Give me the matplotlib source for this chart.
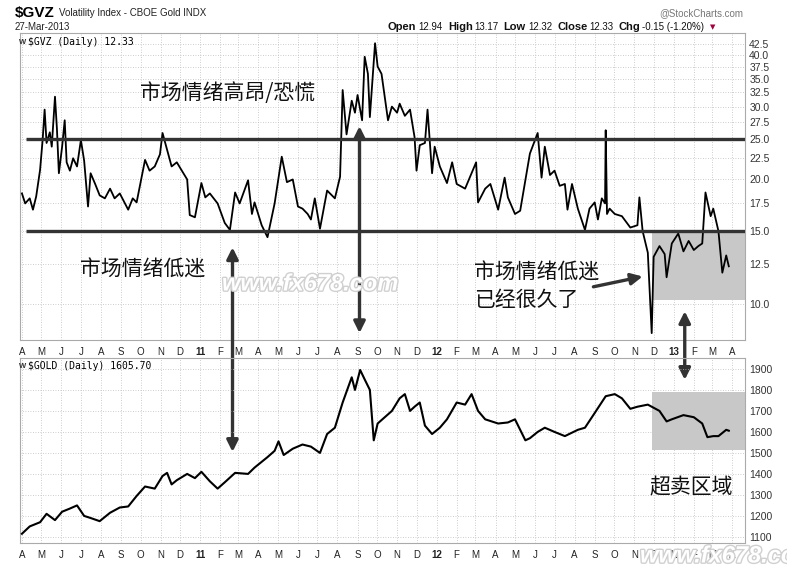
import matplotlib
matplotlib.use("Agg")
import matplotlib.pyplot as plt
import matplotlib.dates as mdates
import matplotlib.patheffects as pe
from matplotlib.ticker import FixedLocator, NullLocator
import pandas as pd

plt.rcParams['font.family'] = ['Liberation Sans', 'DejaVu Sans']
CJK = ['Noto Sans CJK SC', 'DejaVu Sans']

# GVZ (roughly weekly, plus the visible spikes)
gvz_dates = [
    "2010-04-01", "2010-04-06", "2010-04-13", "2010-04-18", "2010-04-23", "2010-04-29",
    "2010-05-03", "2010-05-06", "2010-05-09", "2010-05-14", "2010-05-17", "2010-05-22",
    "2010-05-25", "2010-05-28", "2010-06-02", "2010-06-06", "2010-06-09", "2010-06-14",
    "2010-06-19", "2010-06-25", "2010-07-01", "2010-07-06", "2010-07-12", "2010-07-16",
    "2010-07-23", "2010-07-30", "2010-08-07", "2010-08-15", "2010-08-22", "2010-08-30",
    "2010-09-12", "2010-09-19", "2010-09-25", "2010-10-08", "2010-10-15", "2010-10-23",
    "2010-10-31", "2010-11-04", "2010-11-11", "2010-11-18", "2010-11-26", "2010-12-12",
    "2010-12-16", "2010-12-24", "2011-01-03", "2011-01-09", "2011-01-16", "2011-01-28",
    "2011-02-08", "2011-02-16", "2011-02-24", "2011-03-03", "2011-03-16", "2011-03-22",
    "2011-03-26", "2011-04-06", "2011-04-15", "2011-04-26", "2011-05-07", "2011-05-15",
    "2011-05-24", "2011-06-01", "2011-06-08", "2011-06-16", "2011-06-21", "2011-06-27",
    "2011-07-05", "2011-07-16", "2011-07-28", "2011-08-05", "2011-08-09", "2011-08-15",
    "2011-08-23", "2011-08-28", "2011-09-01", "2011-09-08", "2011-09-12", "2011-09-17",
    "2011-09-20", "2011-09-28", "2011-10-02", "2011-10-08", "2011-10-13", "2011-10-18",
    "2011-10-24", "2011-11-01", "2011-11-05", "2011-11-13", "2011-11-21", "2011-11-28",
    "2011-12-01", "2011-12-06", "2011-12-14", "2011-12-18", "2011-12-25", "2011-12-29",
    "2012-01-06", "2012-01-17", "2012-01-25", "2012-02-01", "2012-02-14", "2012-03-02",
    "2012-03-05", "2012-03-16", "2012-03-24", "2012-04-05", "2012-04-15", "2012-04-20",
    "2012-05-01", "2012-05-09", "2012-05-17", "2012-05-24", "2012-06-05", "2012-06-11",
    "2012-06-16", "2012-06-24", "2012-07-01", "2012-07-09", "2012-07-17", "2012-07-21",
    "2012-07-28", "2012-08-06", "2012-08-17", "2012-08-24", "2012-09-01", "2012-09-06",
    "2012-09-12", "2012-09-17", "2012-09-18", "2012-09-20", "2012-09-24", "2012-10-02",
    "2012-10-13", "2012-10-26", "2012-11-06", "2012-11-09", "2012-11-14", "2012-11-22",
    "2012-11-28", "2012-12-01", "2012-12-10", "2012-12-18", "2012-12-21", "2012-12-29",
    "2013-01-08", "2013-01-16", "2013-01-24", "2013-02-01", "2013-02-08", "2013-02-14",
    "2013-02-19", "2013-02-27", "2013-03-03", "2013-03-11", "2013-03-17", "2013-03-23",
    "2013-03-27",
]
gvz_values = [
    18.5, 17.5, 18.0, 16.9, 18.2, 21.1,
    25.0, 29.5, 24.5, 26.0, 24.0, 31.7,
    26.5, 20.7, 24.0, 27.8, 22.0, 21.0,
    22.5, 21.5, 24.9, 22.2, 17.2, 20.7,
    19.5, 18.3, 18.0, 19.0, 18.0, 18.5,
    16.9, 18.0, 17.6, 22.3, 21.0, 21.5,
    23.0, 25.9, 23.6, 21.5, 22.0, 20.0,
    16.4, 16.2, 19.6, 18.1, 18.5, 17.5,
    15.7, 15.1, 18.6, 17.5, 19.9, 16.5,
    17.6, 15.5, 14.5, 17.5, 22.7, 19.7,
    20.0, 17.2, 17.0, 16.5, 16.0, 18.0,
    15.2, 18.8, 18.0, 20.3, 32.9, 25.7,
    31.0, 29.0, 32.0, 27.8, 39.6, 36.0,
    28.3, 42.7, 37.5, 36.0, 31.7, 27.8,
    30.0, 29.0, 30.5, 28.5, 29.5, 25.3,
    21.0, 24.2, 24.5, 29.5, 20.7, 24.0,
    21.5, 19.6, 22.0, 19.5, 19.0, 22.0,
    17.6, 19.0, 19.5, 16.9, 20.2, 18.1,
    16.5, 16.8, 19.9, 23.1, 25.9, 20.2,
    24.0, 20.5, 21.0, 19.3, 19.5, 16.9,
    19.5, 17.0, 15.1, 17.0, 17.6, 16.0,
    18.0, 17.5, 26.3, 16.5, 17.0, 16.5,
    16.3, 15.3, 15.5, 18.1, 15.0, 13.3,
    8.5, 13.0, 13.8, 13.2, 11.6, 14.0,
    14.8, 13.4, 14.2, 13.5, 13.8, 14.0,
    18.6, 16.3, 17.0, 15.0, 11.9, 13.1,
    12.33,
]

# Gold
gold_dates = [
    "2010-04-01", "2010-04-13", "2010-04-29", "2010-05-09", "2010-05-22", "2010-06-02",
    "2010-06-14", "2010-06-25", "2010-07-06", "2010-07-16", "2010-07-30", "2010-08-15",
    "2010-08-30", "2010-09-12", "2010-09-25", "2010-10-08", "2010-10-23", "2010-11-04",
    "2010-11-11", "2010-11-18", "2010-11-26", "2010-12-12", "2010-12-24", "2011-01-03",
    "2011-01-16", "2011-01-28", "2011-02-08", "2011-02-24", "2011-03-16", "2011-03-26",
    "2011-04-15", "2011-04-26", "2011-05-02", "2011-05-10", "2011-05-24", "2011-06-08",
    "2011-06-21", "2011-07-05", "2011-07-16", "2011-07-28", "2011-08-09", "2011-08-23",
    "2011-08-28", "2011-09-05", "2011-09-12", "2011-09-20", "2011-09-26", "2011-10-02",
    "2011-10-13", "2011-10-24", "2011-11-05", "2011-11-13", "2011-11-21", "2011-11-28",
    "2011-12-06", "2011-12-14", "2011-12-25", "2012-01-06", "2012-01-17", "2012-02-01",
    "2012-02-14", "2012-02-24", "2012-03-05", "2012-03-16", "2012-04-05", "2012-04-20",
    "2012-05-01", "2012-05-17", "2012-05-24", "2012-06-05", "2012-06-16", "2012-07-01",
    "2012-07-17", "2012-08-06", "2012-08-17", "2012-09-01", "2012-09-18", "2012-10-02",
    "2012-10-13", "2012-10-26", "2012-11-06", "2012-11-22", "2012-11-28", "2012-12-10",
    "2012-12-21", "2012-12-29", "2013-01-16", "2013-02-01", "2013-02-14", "2013-02-22",
    "2013-03-03", "2013-03-11", "2013-03-23", "2013-03-27",
]
gold_values = [
    1115, 1150, 1170, 1210, 1180, 1220,
    1235, 1250, 1200, 1190, 1175, 1215,
    1240, 1245, 1295, 1340, 1330, 1390,
    1405, 1350, 1370, 1400, 1380, 1410,
    1365, 1330, 1360, 1405, 1400, 1430,
    1480, 1510, 1555, 1490, 1520, 1540,
    1530, 1500, 1590, 1620, 1740, 1860,
    1800, 1895, 1850, 1800, 1560, 1640,
    1670, 1700, 1760, 1780, 1700, 1720,
    1740, 1630, 1590, 1620, 1660, 1740,
    1730, 1780, 1700, 1660, 1640, 1645,
    1660, 1560, 1570, 1600, 1620, 1600,
    1580, 1610, 1620, 1690, 1770, 1780,
    1760, 1710, 1720, 1730, 1720, 1700,
    1650, 1660, 1680, 1670, 1640, 1575,
    1580, 1580, 1610, 1605.7,
]

gvz_ticks = [10.0, 12.5, 15.0, 17.5, 20.0, 22.5, 25.0, 27.5, 30.0, 32.5, 35.0, 37.5, 40.0, 42.5]
gold_ticks = [1100, 1200, 1300, 1400, 1500, 1600, 1700, 1800, 1900]
gvz_levels = [25.0, 15.0]
gvz_box = (10.2, 15.0)
gold_box = (1515, 1790)
box_start = "2012-11-28"

W, H = 787, 566
fig = plt.figure(figsize=(W / 100, H / 100), dpi=100)
fig.patch.set_facecolor('white')


def fx(x):
    return x / W


def fy(y):
    return 1 - y / H


ax1 = fig.add_axes([fx(20), fy(340), fx(725), 307 / H])
ax2 = fig.add_axes([fx(20), fy(543), fx(725), 185 / H])
ax2.patch.set_visible(False)  # so arrows from the top panel show through

gd = pd.to_datetime(gvz_dates)
od = pd.to_datetime(gold_dates)
xmin, xmax = pd.Timestamp("2010-03-29"), pd.Timestamp("2013-04-21")

ax1.set_yscale('log')
ax1.plot(gd, gvz_values, color='black', lw=1.3, zorder=4)
ax2.plot(od, gold_values, color='black', lw=1.5, zorder=4)

for lv in gvz_levels:
    ax1.hlines(lv, pd.Timestamp("2010-04-08"), xmax, color='#333333', lw=2.4, zorder=5)

bs = pd.Timestamp(box_start)
ax1.fill_between([bs, xmax], gvz_box[0], gvz_box[1], color='#c8c8c8', lw=0, zorder=2)
ax2.fill_between([bs, xmax], gold_box[0], gold_box[1], color='#c8c8c8', lw=0, zorder=2)

months = pd.date_range("2010-04-01", "2013-04-01", freq='MS')
letters = 'JFMAMJJASOND'
labels = [str(m.year)[2:] if m.month == 1 else letters[m.month - 1] for m in months]

for ax in (ax1, ax2):
    ax.set_xlim(xmin, xmax)
    ax.set_xticks(months)
    ax.set_xticklabels(labels)
    for t, m in zip(ax.get_xticklabels(), months):
        if m.month == 1:
            t.set_fontweight('bold')
            t.set_fontsize(8)
    ax.tick_params(axis='x', length=0, pad=5, labelsize=7, colors='#222222')
    ax.yaxis.tick_right()
    ax.tick_params(axis='y', length=0, pad=3, labelsize=7.5, colors='#333333')
    ax.grid(True, color='#bdbdbd', lw=0.6, ls=(0, (1, 2)), zorder=0)
    for s in ax.spines.values():
        s.set_color('#aaaaaa')
        s.set_linewidth(0.8)

ax1.set_ylim(8.18, 45.2)
ax1.yaxis.set_major_locator(FixedLocator(gvz_ticks))
ax1.yaxis.set_minor_locator(NullLocator())
ax1.set_yticklabels([f"{v:.1f}" for v in gvz_ticks])
ax2.set_ylim(1071, 1952)
ax2.set_yticks(gold_ticks)
ax2.set_yticklabels([str(v) for v in gold_ticks])

# watermarks
wm = [pe.withStroke(linewidth=2, foreground='#d0d0d0')]
fig.text(fx(222), fy(284), "www.fx678.com", fontsize=17, fontweight='bold', style='italic',
         color='white', va='center', path_effects=wm, zorder=3)
fig.text(fx(640), fy(556), "www.fx678.com", fontsize=17, fontweight='bold', style='italic',
         color='white', va='center', path_effects=wm, zorder=3)

# annotations
fig.text(fx(228), fy(93), "市场情绪高昂/恐慌", family=CJK, fontsize=15, ha='center', va='center', color='#111111')
fig.text(fx(143), fy(270), "市场情绪低迷", family=CJK, fontsize=15, ha='center', va='center', color='#111111')
fig.text(fx(537), fy(273), "市场情绪低迷", family=CJK, fontsize=15, ha='center', va='center', color='#111111')
fig.text(fx(474), fy(300), "已经很久了", family=CJK, fontsize=15, ha='left', va='center', color='#111111')
fig.text(fx(691), fy(487), "超卖区域", family=CJK, fontsize=15, ha='center', va='center', color='#111111')


def arrow(axA, pA, axB, pB, style='<|-|>'):
    xa = (mdates.date2num(pd.Timestamp(pA[0])), pA[1])
    xb = (mdates.date2num(pd.Timestamp(pB[0])), pB[1])
    ax1.annotate('', xy=xb, xycoords=axB.transData, xytext=xa, textcoords=axA.transData,
                 annotation_clip=False, zorder=6,
                 arrowprops=dict(arrowstyle=style, mutation_scale=17, lw=2.4,
                                 color='#333333', shrinkA=0, shrinkB=0))


arrow(ax1, ("2011-02-20", 13.7), ax2, ("2011-02-20", 1505))
arrow(ax1, ("2011-09-04", 26.9), ax1, ("2011-09-04", 8.5))
arrow(ax1, ("2012-08-30", 11.0), ax1, ("2012-11-14", 11.65), style='-|>')
arrow(ax1, ("2013-01-18", 9.6), ax2, ("2013-01-18", 1848))

# header
renderer = fig.canvas.get_renderer()
t = fig.text(fx(15), fy(13), "$GVZ", fontsize=11, fontweight='bold', va='center')
x = 15 + t.get_window_extent(renderer).width + 4
fig.text(fx(x), fy(13), "Volatility Index - CBOE Gold INDX", fontsize=7, va='center', color='#222222')
fig.text(fx(15), fy(27), "27-Mar-2013", fontsize=7, va='center', color='#222222')
fig.text(fx(743), fy(13), "@StockCharts.com", fontsize=7, ha='right', va='center', color='#777777')

hdr = [("Open", True), ("12.94", False), ("High", True), ("13.17", False),
       ("Low", True), ("12.32", False), ("Close", True), ("12.33", False),
       ("Chg", True), ("-0.15 (-1.20%)", False)]
x = 388
for s, b in hdr:
    t = fig.text(fx(x), fy(27), s, fontsize=8 if b else 7, fontweight='bold' if b else 'normal',
                 va='center', color='#111111')
    w = t.get_window_extent(renderer).width
    x += w + (2 if b else 5)
fig.text(fx(x + 1), fy(27), "▼", fontsize=5, ha='left', va='center', color='#a0003c', family='DejaVu Sans')

fig.text(fx(28), fy(42), "$GVZ (Daily) 12.33", fontsize=7, family='DejaVu Sans Mono', va='center')
fig.text(fx(28), fy(366), "$GOLD (Daily) 1605.70", fontsize=7, family='DejaVu Sans Mono', va='center')
fig.text(fx(19), fy(42), "W", fontsize=5.5, fontweight='bold', va='center', color='#333333')
fig.text(fx(19), fy(366), "W", fontsize=5.5, fontweight='bold', va='center', color='#333333')

fig.savefig("out.png", dpi=100)
